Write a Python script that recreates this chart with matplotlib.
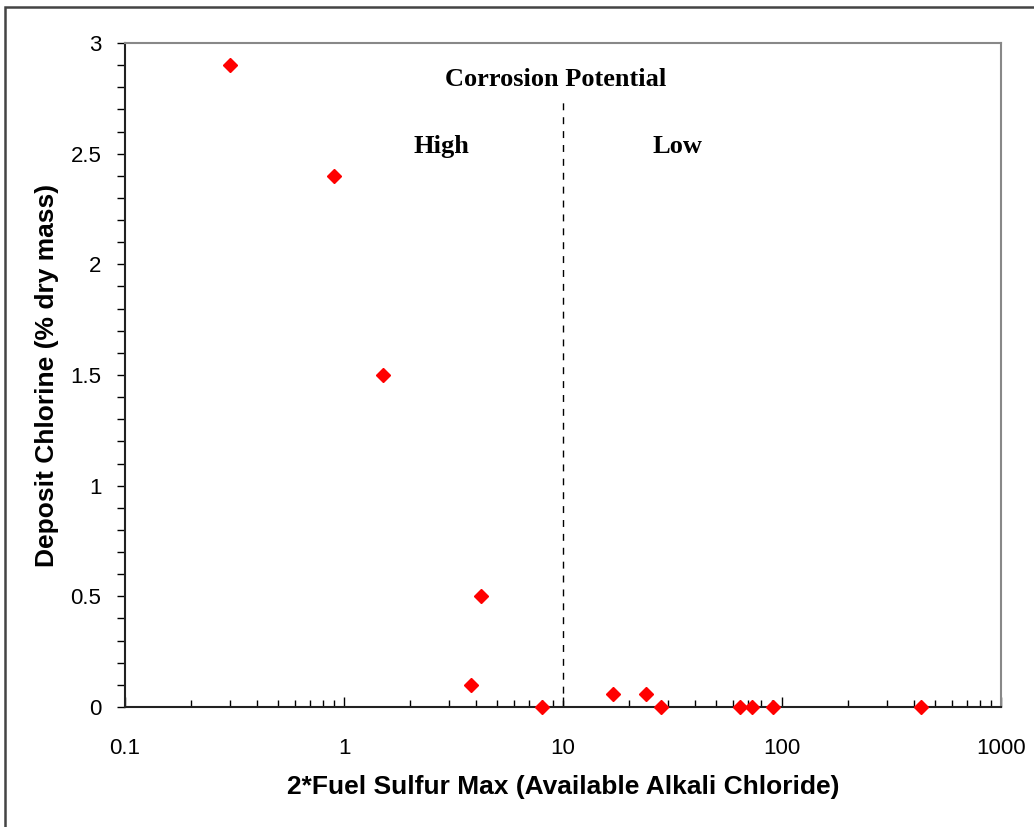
import numpy as np
import matplotlib.pyplot as plt
from matplotlib.patches import Rectangle
from matplotlib.ticker import MultipleLocator, NullFormatter

# values
sulfur_ratio = [0.3, 0.9, 1.5, 4.2, 3.8, 8.0, 17, 24, 28, 64, 73, 91, 430]
deposit_cl = [2.9, 2.4, 1.5, 0.5, 0.1, 0.0, 0.06, 0.06, 0.0, 0.0, 0.0, 0.0, 0.0]
threshold = 10
x_ticks = [0.1, 1, 10, 100, 1000]
x_tick_labels = ["0.1", "1", "10", "100", "1000"]
y_ticks = [0, 0.5, 1, 1.5, 2, 2.5, 3]
y_tick_labels = ["0", "0.5", "1", "1.5", "2", "2.5", "3"]

plt.rcParams['font.family'] = ['Liberation Sans', 'DejaVu Sans']

fig = plt.figure(figsize=(10.34, 8.27), dpi=100)
ax = fig.add_axes([0.1209, 0.1451, 0.8472, 0.8029])

ax.plot(sulfur_ratio, deposit_cl, linestyle='none', marker='D', color='#ff0000',
        markersize=7, clip_on=False, zorder=5)
ax.axvline(threshold, ymin=0, ymax=0.915, color='black', linestyle=(0, (5, 5)), linewidth=1)

ax.set_xscale('log')
ax.set_xlim(0.1, 1000)
ax.set_ylim(0, 3)
ax.set_xticks(x_ticks)
ax.set_xticklabels(x_tick_labels)
ax.set_yticks(y_ticks)
ax.set_yticklabels(y_tick_labels)
ax.yaxis.set_minor_locator(MultipleLocator(0.1))
ax.xaxis.set_minor_formatter(NullFormatter())

ax.tick_params(axis='x', which='major', direction='in', length=7, width=1, labelsize=16, pad=22)
ax.tick_params(axis='x', which='minor', direction='in', length=5, width=1)
ax.tick_params(axis='y', which='major', direction='out', length=6, width=1, labelsize=16, pad=11)
ax.tick_params(axis='y', which='minor', direction='out', length=6, width=1)

for side in ['left', 'bottom']:
    ax.spines[side].set_linewidth(1.5)
    ax.spines[side].set_color('#222222')
for side in ['top', 'right']:
    ax.spines[side].set_linewidth(1.5)
    ax.spines[side].set_color('#888888')

ax.set_xlabel("2*Fuel Sulfur Max (Available Alkali Chloride)", fontsize=19,
              fontweight='bold', labelpad=12)
ax.set_ylabel("Deposit Chlorine (% dry mass)", fontsize=19, fontweight='bold', labelpad=8)

serif = ['Liberation Serif', 'DejaVu Serif']
ax.text(0.492, 0.945, "Corrosion Potential", transform=ax.transAxes, ha='center',
        va='center', fontsize=19, fontweight='bold', family=serif)
ax.text(0.361, 0.844, "High", transform=ax.transAxes, ha='center', va='center',
        fontsize=19, fontweight='bold', family=serif)
ax.text(0.631, 0.844, "Low", transform=ax.transAxes, ha='center', va='center',
        fontsize=19, fontweight='bold', family=serif)

# outer border of the embedded figure (cropped at right and bottom)
fig.patches.append(Rectangle((5 / 1034, -0.1), 1.2, 1.1 - 7 / 827, transform=fig.transFigure,
                             fill=False, edgecolor='#444444', linewidth=1.8))

fig.savefig("out.png", dpi=100)
